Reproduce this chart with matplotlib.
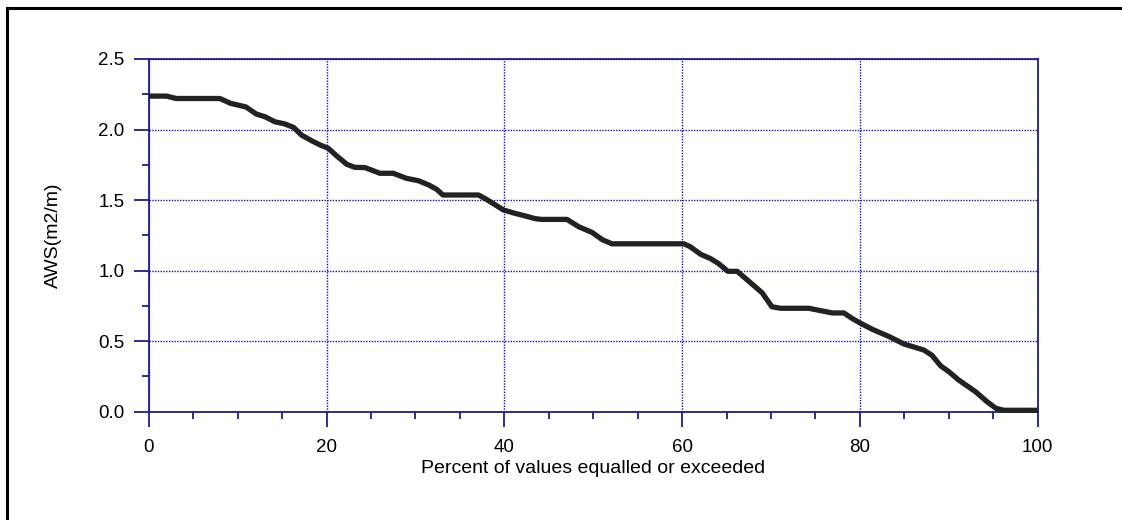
import matplotlib
matplotlib.use("Agg")
import matplotlib.pyplot as plt
from matplotlib.ticker import MultipleLocator
from matplotlib.patches import Rectangle

plt.rcParams['font.family'] = ['Liberation Sans', 'DejaVu Sans']

percent = [0, 2, 3.1, 8.0, 9.2, 10.95, 12.1, 13.1, 14.2, 15.3, 16.3, 17.2, 18.35, 19.3,
           20.2, 21.2, 22.3, 23.2, 24.35, 26.0, 27.5, 29.0, 30.35, 31.5, 32.4, 33.1,
           37.1, 38.0, 39.9, 41.2, 42.2, 43.5, 44.2, 47.05, 48.4, 49.9, 51.0, 52.1,
           60.2, 60.9, 62.1, 63.2, 64.1, 65.15, 66.2, 67.7, 69.0, 70.1, 71.1, 74.25,
           75.6, 76.9, 78.2, 79.1, 80.1, 81.4, 83.3, 84.95, 87.2, 88.1, 89.1, 90.0,
           91.1, 93.0, 94.3, 95.3, 96.2, 100]
aws = [2.237, 2.237, 2.22, 2.22, 2.186, 2.16, 2.11, 2.09, 2.055, 2.04, 2.015, 1.96, 1.92, 1.89,
       1.867, 1.81, 1.753, 1.732, 1.73, 1.69, 1.69, 1.654, 1.637, 1.607, 1.576, 1.536,
       1.536, 1.505, 1.43, 1.406, 1.39, 1.368, 1.363, 1.363, 1.31, 1.27, 1.22, 1.19,
       1.19, 1.17, 1.115, 1.085, 1.05, 0.995, 0.995, 0.914, 0.843, 0.744, 0.733, 0.733,
       0.716, 0.70, 0.70, 0.662, 0.626, 0.584, 0.532, 0.48, 0.437, 0.40, 0.324, 0.284,
       0.225, 0.142, 0.071, 0.024, 0.01, 0.01]

x_ticks = [0, 20, 40, 60, 80, 100]
y_ticks = [0.0, 0.5, 1.0, 1.5, 2.0, 2.5]
x_label = "Percent of values equalled or exceeded"
y_label = "AWS(m2/m)"

W, H = 1122, 520
fig = plt.figure(figsize=(W / 100, H / 100), dpi=100)
fig.patches.append(Rectangle((7 / W, -0.1), 1.2, 1 - 8 / H + 0.1, transform=fig.transFigure,
                             fill=False, edgecolor='black', linewidth=2.2))

l, r, b, t = 148.7 / W, 1037.7 / W, 1 - 411.7 / H, 1 - 59 / H
ax = fig.add_axes([l, b, r - l, t - b])

navy = '#1c1c8f'
ax.plot(percent, aws, color='#222222', linewidth=3.8, solid_joinstyle='round',
        solid_capstyle='butt', zorder=3, clip_on=False)

ax.set_xlim(0, 100)
ax.set_ylim(0, 2.5)
ax.set_xticks(x_ticks)
ax.set_yticks(y_ticks)
ax.set_yticklabels([f"{v:.1f}" for v in y_ticks])
ax.xaxis.set_minor_locator(MultipleLocator(5))
ax.yaxis.set_minor_locator(MultipleLocator(0.25))

for s in ax.spines.values():
    s.set_color(navy)
    s.set_linewidth(1.3)

ax.tick_params(axis='both', which='major', direction='out', length=10.5, width=1.3,
               color=navy, labelsize=13.5, labelcolor='black')
ax.tick_params(axis='y', which='major', pad=7)
ax.tick_params(axis='x', which='major', pad=9)
ax.tick_params(axis='both', which='minor', direction='out', length=5, width=1.3, color=navy)

ax.grid(True, which='major', color='#1010c0', linestyle=(0, (1, 1)), linewidth=1.0)
ax.set_axisbelow(True)

ax.set_xlabel(x_label, fontsize=14, labelpad=3)
ax.set_ylabel(y_label, fontsize=14, labelpad=26)

fig.savefig("out.png", dpi=100)
